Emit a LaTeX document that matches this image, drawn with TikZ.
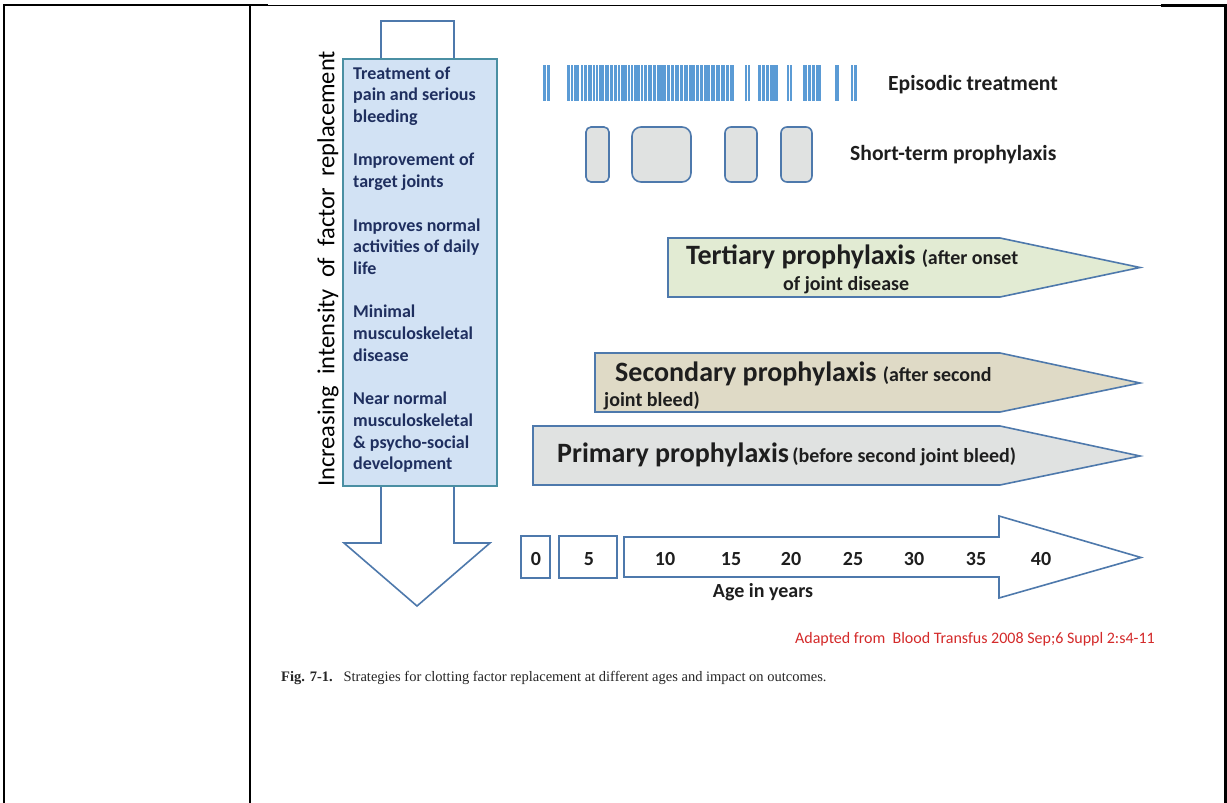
\documentclass[tikz,border=0pt]{standalone}
\usepackage{fontspec}
\setmainfont{Carlito}
\newfontfamily\capfont{Liberation Serif}
\definecolor{edgeblue}{HTML}{4E79AC}
\definecolor{boxedge}{HTML}{4A8FA3}
\definecolor{boxfill}{HTML}{D2E2F4}
\definecolor{boxtext}{HTML}{1F2F5F}
\definecolor{barblue}{HTML}{5B9BD5}
\definecolor{grayfill}{HTML}{E0E2E1}
\definecolor{tertfill}{HTML}{E2EBD3}
\definecolor{secfill}{HTML}{DFDAC6}
\definecolor{labeltext}{HTML}{1E1E1E}
\definecolor{refred}{HTML}{D42A2A}
\tikzset{
  tbl/.style={line width=2.2pt, black},
  arrowline/.style={draw=edgeblue, line width=1.6pt, line join=miter},
  stbox/.style={draw=edgeblue, line width=1.6pt, fill=grayfill},
  lbl/.style={inner sep=0pt, anchor=base west, text=labeltext, font=\bfseries\fontsize{21.6}{25}\selectfont},
  big/.style={font=\bfseries\fontsize{28}{32}\selectfont},
  paren/.style={font=\bfseries\fontsize{20}{24}\selectfont},
  agenum/.style={inner sep=0pt, anchor=base, text=labeltext, font=\bfseries\fontsize{20}{24}\selectfont},
  boxtxt/.style={inner sep=0pt, anchor=north west, align=left, text=boxtext, font=\bfseries\fontsize{18}{21.7}\selectfont},
}
\begin{document}
\begin{tikzpicture}[x=1pt,y=-1pt]
\useasboundingbox (0,0) rectangle (1227,803);
\fill[white] (0,0) rectangle (1227,803);
% table lines
\draw[tbl] (4,803) -- (4,5) -- (268,5);
\draw[line width=1pt] (268,5) -- (1161,5);
\draw[tbl] (1161,5.5) -- (1225.5,5.5) -- (1225.5,803);
\draw[tbl] (250,5) -- (250,803);
% down arrow behind box
\draw[arrowline, fill=white] (381,21) -- (454,21) -- (454,543) -- (490,543) -- (417,606) -- (344,543) -- (381,543) -- cycle;
\draw[draw=boxedge, line width=1.8pt, fill=boxfill] (343,59) rectangle (497,486);
\node[boxtxt] (outcomes) at (353,63.8) {\strut Treatment of\\ pain and serious\\ bleeding\\[21.7pt]
Improvement of\\ target joints\\[21.7pt]
Improves normal\\ activities of daily\\ life\\[21.7pt]
Minimal\\ musculoskeletal\\ disease\\[21.7pt]
Near normal\\ musculoskeletal\\ \& psycho-social\\ development};
\node[rotate=90, inner sep=0pt, text=black, font=\fontsize{24.5}{29}\selectfont] (intensity) at (328,269) {Increasing\ \ intensity\ \ of\ \ factor\ \ replacement};
% episodic bars
\foreach \a/\b in {38/47,51/60,110/120,123/130,133/148,152/160,163/172,175/185,188/195,198/205,208/222,226/236,239/248,252/262,265/270,273/290,293/300,303/310,313/330,333/340,343/352,355/365,368/378,381/408,411/420,423/432,436/448,451/458,461/475,478/495,498/508,511/520,523/540,543/556,559/570,573/585,588/598,600/612,645/652,655/661,685/692,695/705,708/718,721/745,772/778,781/787,820/830,833/843,846/856,859/872,914/926,963/970,973/980}
  \fill[barblue] ({530+\a/3},65) rectangle ({530+\b/3},101);
\node[lbl] (episodic) at (888,90) {Episodic treatment};
% short-term boxes
\draw[stbox, rounded corners=5pt] (586,127) rectangle (609,182);
\draw[stbox, rounded corners=9pt] (632,127) rectangle (691,182);
\draw[stbox, rounded corners=6pt] (725,127) rectangle (757,182);
\draw[stbox, rounded corners=6pt] (781,127) rectangle (812,182);
\node[lbl] (shortterm) at (850,160) {Short-term prophylaxis};
% prophylaxis arrows
\draw[arrowline, fill=tertfill] (668,238) -- (1000,238) -- (1140,267.5) -- (1000,297) -- (668,297) -- cycle;
\node[lbl, big] (tert) at (686,264) {Tertiary prophylaxis {\fontsize{20}{24}\selectfont(after onset}};
\node[lbl, paren] (tert2) at (783,290) {of joint disease};
\draw[arrowline, fill=secfill] (595,353) -- (1000,353) -- (1140,383) -- (1000,412) -- (595,412) -- cycle;
\node[lbl, big] (sec) at (615,381) {Secondary prophylaxis {\fontsize{20}{24}\selectfont(after second}};
\node[lbl, paren] (sec2) at (604,406) {joint bleed)};
\draw[arrowline, fill=grayfill] (533,426) -- (1000,426) -- (1140,456) -- (1000,485) -- (533,485) -- cycle;
\node[lbl, big] (prim) at (557,462) {Primary prophylaxis{\fontsize{20}{24}\selectfont\,(before second joint bleed)}};
% age axis
\draw[arrowline] (521,536) rectangle (550,578);
\draw[arrowline] (559,536) rectangle (617,578);
\draw[arrowline, fill=white] (624,537) -- (999,537) -- (999,516) -- (1141,557.5) -- (999,598) -- (999,577) -- (624,577) -- cycle;
\node[agenum] (a0) at (536,565) {0};
\node[agenum] (a5) at (589,565) {5};
\node[agenum] (a10) at (665,565) {10};
\node[agenum] (a15) at (731,565) {15};
\node[agenum] (a20) at (791,565) {20};
\node[agenum] (a25) at (853,565) {25};
\node[agenum] (a30) at (914,565) {30};
\node[agenum] (a35) at (976,565) {35};
\node[agenum] (a40) at (1041,565) {40};
\node[agenum] (age) at (763,597) {Age in years};
% source and caption
\node[inner sep=0pt, anchor=base east, text=refred, font=\fontsize{16}{19}\selectfont] (source) at (1155,643) {Adapted from\ \ Blood Transfus 2008 Sep;6 Suppl 2:s4-11};
\node[inner sep=0pt, anchor=base west, text=black!85, font=\capfont\fontsize{14.5}{17}\selectfont] (caption) at (281,681) {\textbf{Fig. 7-1.}\ \ \ Strategies for clotting factor replacement at different ages and impact on outcomes.};
\end{tikzpicture}
\end{document}
